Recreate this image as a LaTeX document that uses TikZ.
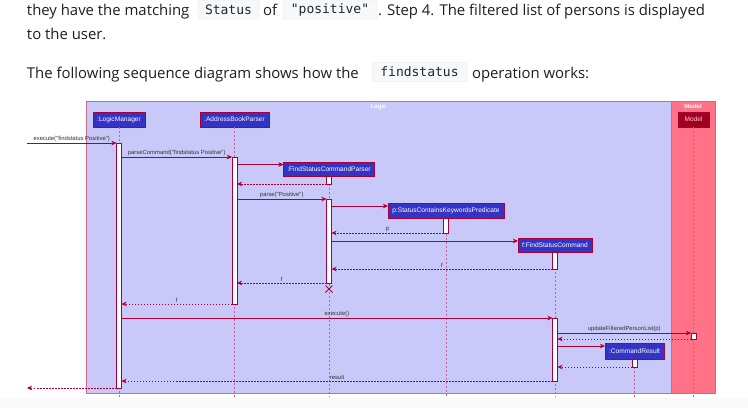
\documentclass[tikz,border=0pt]{standalone}
\usepackage{fontspec}
\setmainfont{Open Sans}
\setmonofont{DejaVu Sans Mono}
\newfontfamily\umlfont{Liberation Sans}
\usepackage{tikz}
\usetikzlibrary{positioning, arrows.meta, shapes.misc}
\usepackage{xcolor}

\definecolor{umlred}{HTML}{A80036}
\definecolor{lifecol}{HTML}{CC5C92}
\definecolor{framecol}{HTML}{D06A8C}
\definecolor{logicfill}{HTML}{C9C9F9}
\definecolor{modelfill}{HTML}{FF7287}
\definecolor{partblue}{HTML}{3434C4}
\definecolor{modelpart}{HTML}{A0001E}
\definecolor{codefill}{HTML}{F6F8FA}
\definecolor{codeedge}{HTML}{E0E3E7}

\begin{document}
\begin{tikzpicture}[
    x=1pt, y=-1pt,
    every node/.style={inner sep=0pt, outer sep=0pt},
    prose/.style={anchor=base west, font=\fontsize{14.9}{18}\selectfont, text=black!88},
    code/.style={draw=codeedge, fill=codefill, rounded corners=2.5pt, minimum height=19pt,
        font=\ttfamily\fontsize{13}{15}\selectfont, text=black!85},
    frame/.style={draw=framecol, line width=0.8pt, anchor=north west},
    title/.style={font=\umlfont\bfseries\fontsize{6}{7}\selectfont, text=white},
    part/.style={draw=umlred, fill=partblue, text=white, minimum height=15pt,
        font=\umlfont\fontsize{6.6}{7}\selectfont, line width=0.6pt},
    act/.style={draw=umlred, fill=white, minimum width=5pt, anchor=north, line width=0.5pt},
    life/.style={draw=lifecol, dash pattern=on 2pt off 2pt, line width=0.6pt},
    msg/.style={draw=umlred, line width=0.5pt, -{Stealth[length=5pt, width=4.5pt, inset=1.5pt]}},
    ret/.style={msg, dash pattern=on 1.5pt off 1.5pt},
    lbl/.style={midway, above=1.5pt, font=\umlfont\fontsize{5.9}{6}\selectfont, text=black!80}
]
    \useasboundingbox[fill=white] (0,0) rectangle (748,408);
    \fill[black!2] (0,398) rectangle (748,408);

    % Text above the diagram
    \node[prose] (lineA) at (27,15) {they have the matching};
    \node[code, minimum width=61pt] (codeStatus) at (228.5,9.5) {Status};
    \node[prose] (lineB) at (263,15) {of};
    \node[code, minimum width=94pt] (codePositive) at (330,9.5) {"positive"};
    \node[prose] (lineC) at (378,15) {. Step 4. The filtered list of persons is displayed};
    \node[prose] (lineD) at (27,39) {to the user.};
    \node[prose] (lineE) at (27,78) {The following sequence diagram shows how the};
    \node[code, minimum width=95pt] (codeFind) at (419.5,72) {findstatus};
    \node[prose] (lineF) at (472,78) {operation works:};

    % Frames
    \node[frame, fill=logicfill, minimum width=585pt, minimum height=292pt] (logic) at (86,101) {};
    \node[title, below=3pt of logic.north] (logicTitle) {Logic};
    \node[frame, fill=modelfill, minimum width=44pt, minimum height=292pt] (modelBox) at (671,101) {};
    \node[title, below=3pt of modelBox.north] (modelTitle) {Model};

    % Participants
    \node[part, minimum width=52pt] (lm) at (119,119.5) {:LogicManager};
    \node[part, minimum width=69pt] (abp) at (234.5,119.5) {:AddressBookParser};
    \node[part, minimum width=91pt, minimum height=14pt] (fscp) at (329,169) {:FindStatusCommandParser};
    \node[part, minimum width=116pt] (pred) at (446,210.5) {p:StatusContainsKeywordsPredicate};
    \node[part, minimum width=74pt, minimum height=14pt] (fcmd) at (555,245) {f:FindStatusCommand};
    \node[part, minimum width=59pt, minimum height=16pt] (cres) at (634.5,351) {:CommandResult};
    \node[part, fill=modelpart, text=red!20, minimum width=31pt] (model) at (693.5,119.5) {Model};

    % Lifelines
    \coordinate (bottom) at (0,397);
    \foreach \p in {lm, abp, fscp, pred, fcmd, cres, model}
        \draw[life] (\p.south) -- (\p.south |- bottom);

    % Activations
    \node[act, minimum height=245pt] (aLM) at (119,143) {};
    \node[act, minimum height=147pt] (aABP) at (234.5,157) {};
    \node[act, minimum height=8pt] (aFSCP1) at (fscp.south) {};
    \node[act, minimum height=84pt] (aFSCP2) at (329,199) {};
    \node[act, minimum height=15pt] (aP) at (pred.south) {};
    \node[act, minimum height=17pt] (aF1) at (fcmd.south) {};
    \node[act, minimum height=63pt] (aF2) at (555,318) {};
    \node[act, minimum height=6pt] (aM) at (693.5,333) {};
    \node[act, minimum height=8pt] (aCR) at (cres.south) {};

    % Messages
    \coordinate (in) at (27,143);
    \coordinate (out) at (27,388);
    \coordinate (toFSCP) at ([yshift=-2.5pt]fscp.north west);
    \coordinate (toPred) at ([yshift=-3pt]pred.north west);
    \coordinate (toCmd) at ([yshift=-3pt]fcmd.north west);
    \coordinate (toRes) at ([yshift=-3pt]cres.north west);

    \draw[msg] (in) -- (aLM.north west) node[lbl] {execute("findstatus Positive")};
    \draw[msg] (aLM.east |- aABP.north) -- (aABP.north west) node[lbl] {parseCommand("findstatus Positive")};
    \draw[msg] (aABP.east |- toFSCP) -- (toFSCP);
    \draw[ret] (aFSCP1.south west) -- (aABP.east |- aFSCP1.south);
    \draw[msg] (aABP.east |- aFSCP2.north) -- (aFSCP2.north west) node[lbl] {parse("Positive")};
    \draw[msg] (aFSCP2.east |- toPred) -- (toPred);
    \draw[ret] (aP.south west) -- (aFSCP2.east |- aP.south) node[lbl] {p};
    \draw[msg] (aFSCP2.east |- toCmd) -- (toCmd);
    \draw[ret] (aF1.south west) -- (aFSCP2.east |- aF1.south) node[lbl] {f};
    \draw[ret] (aFSCP2.south west) -- (aABP.east |- aFSCP2.south) node[lbl] {f};
    \node[draw=umlred, cross out, minimum size=7pt, line width=0.8pt] (kill) at ([yshift=-6pt]aFSCP2.south) {};
    \draw[ret] (aABP.south west) -- (aLM.east |- aABP.south) node[lbl] {f};
    \draw[msg] (aLM.east |- aF2.north) -- (aF2.north west) node[lbl] {execute()};
    \draw[msg] (aF2.east |- aM.north) -- (aM.north west) node[lbl] {updateFilteredPersonList(p)};
    \draw[ret] (aM.south west) -- (aF2.east |- aM.south);
    \draw[msg] (aF2.east |- toRes) -- (toRes);
    \draw[ret] (aCR.south west) -- (aF2.east |- aCR.south);
    \draw[ret] (aF2.south west) -- (aLM.east |- aF2.south) node[lbl] {result};
    \draw[ret] (aLM.south west) -- (out);
\end{tikzpicture}
\end{document}
